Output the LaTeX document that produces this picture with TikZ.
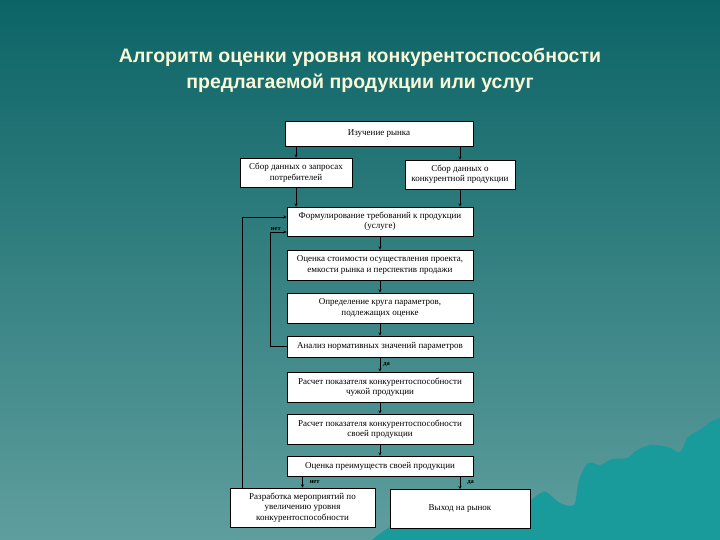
\documentclass[tikz,border=0pt]{standalone}
\usepackage{fontspec}
\setmainfont{Liberation Serif}
\newfontfamily\titlefont{Liberation Sans}
\tikzset{
  blok/.style={draw=black, fill=white, line width=0.6pt, align=center, inner sep=1pt,
    font=\fontsize{9}{10.5}\selectfont},
  strelka/.style={draw=black, line width=0.5pt, -stealth},
  metka/.style={font=\fontsize{6.5}{7}\selectfont\bfseries, inner sep=1pt}
}
\definecolor{fonverh}{RGB}{12,100,102}
\definecolor{fonniz}{RGB}{95,158,158}
\definecolor{volna}{RGB}{25,155,155}
\definecolor{zagolovok}{RGB}{250,248,215}
\begin{document}
\begin{tikzpicture}[x=1pt,y=1pt,yscale=-1,xscale=1]
\useasboundingbox (0,0) rectangle (720,540);
\shade [top color=fonverh, bottom color=fonniz] (0,0) rectangle (720,540);
\fill [volna] plot[smooth] coordinates {(372,540) (395,525) (440,520) (500,522) (522,508) (536,496) (546,492) (560,503) (574,505) (579,480) (588,463) (600,465) (612,459) (627,458) (636,451) (650,445) (668,447) (680,452) (688,437) (700,430) (710,422) (720,418)} -- (720,540) -- cycle;

\node [text=zagolovok, align=center, font=\titlefont\bfseries\fontsize{19.5}{26}\selectfont] (titul) at (360,70) {Алгоритм оценки уровня конкурентоспособности\\предлагаемой продукции или услуг};

\node [blok, minimum width=188pt, minimum height=25pt] (b1) at (379,133.5) {Изучение рынка};
\node [blok, minimum width=112pt, minimum height=29pt] (b2) at (296,172.5) {Сбор данных о запросах\\потребителей};
\node [blok, minimum width=110pt, minimum height=29pt] (b3) at (460,174.5) {Сбор данных о\\конкурентной продукции};
\node [blok, minimum width=186pt, minimum height=29pt] (b4) at (380,221.5) {Формулирование требований к продукции\\(услуге)};
\node [blok, minimum width=186pt, minimum height=30pt] (b5) at (380,265) {Оценка стоимости осуществления проекта,\\емкости рынка и перспектив продажи};
\node [blok, minimum width=186pt, minimum height=30pt] (b6) at (380,308) {Определение круга параметров,\\подлежащих оценке};
\node [blok, minimum width=186pt, minimum height=21pt] (b7) at (380,346.5) {Анализ нормативных значений параметров};
\node [blok, minimum width=186pt, minimum height=30pt] (b8) at (380,387) {Расчет показателя конкурентоспособности\\чужой продукции};
\node [blok, minimum width=186pt, minimum height=30pt] (b9) at (380,429) {Расчет показателя конкурентоспособности\\своей продукции};
\node [blok, minimum width=186pt, minimum height=20pt] (b10) at (380,466) {Оценка преимуществ своей продукции};
\node [blok, minimum width=145pt, minimum height=39pt] (b11) at (302.5,507.5) {Разработка мероприятий по\\увеличению уровня\\конкурентоспособности};
\node [blok, minimum width=140pt, minimum height=39pt] (b12) at (460,509) {Выход на рынок};

\coordinate (k1) at (242,217);
\coordinate (k2) at (270,232);

\draw [strelka] (b1.south -| b2) -- (b2.north);
\draw [strelka] (b1.south -| b3) -- (b3.north);
\draw [strelka] (b2.south) -- (b2.south |- b4.north);
\draw [strelka] (b3.south) -- (b3.south |- b4.north);
\draw [strelka] (b4) -- (b5);
\draw [strelka] (b5) -- (b6);
\draw [strelka] (b6) -- (b7);
\draw [strelka] (b7) -- node [metka, right=2pt, pos=0.5] (da1) {да} (b8);
\draw [strelka] (b8) -- (b9);
\draw [strelka] (b9) -- (b10);
\draw [strelka] (b10.south -| b11) -- node [metka, right=6pt] (net2) {нет} (b11.north);
\draw [strelka] (b10.south -| b12) -- node [metka, right=6pt] (da2) {да} (b12.north);
\draw [strelka] (b11.north -| k1) -- (k1) -- (k1 -| b4.west);
\draw [strelka] (b7.west) -- (b7.west -| k2) -- (k2) -- node [metka, above, pos=0.35] (net1) {нет} (k2 -| b4.west);
\end{tikzpicture}
\end{document}
